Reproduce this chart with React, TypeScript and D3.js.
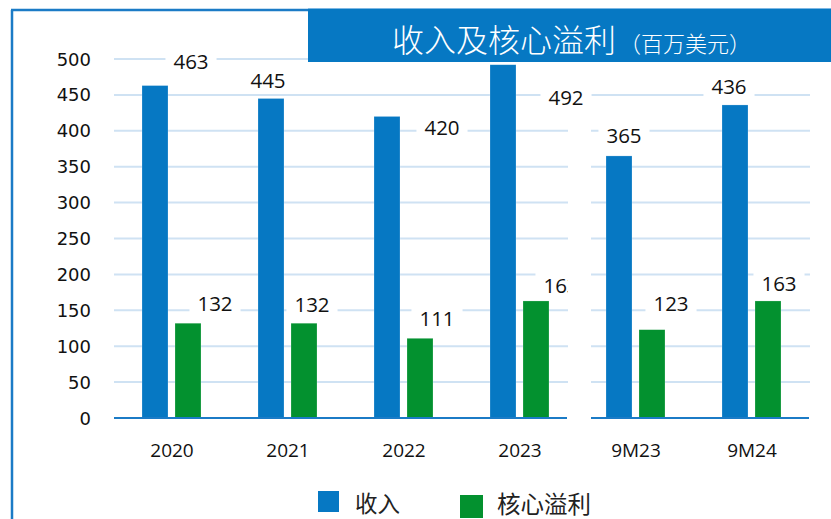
import React from "react";
import * as d3 from "d3";

const categories = ["2020", "2021", "2022", "2023", "9M23", "9M24"];
const revenue = [463, 445, 420, 492, 365, 436];
const coreProfit = [132, 132, 111, 163, 123, 163];
const yTicks = [0, 50, 100, 150, 200, 250, 300, 350, 400, 450, 500];
const seriesNames = ["收入", "核心溢利"];
const titleMain = "收入及核心溢利";
const titleUnit = "（百万美元）";

// label nudges (layout only): [dx, dy] from bar centre / bar top
const revNudge: [number, number][] = [[36, -25], [-3, -18], [55, 11], [63, 32], [5, -21], [-6, -19]];
const profNudge: [number, number][] = [[27, -20], [8, -19], [17, -20], [25, -16], [19, -27], [11, -18]];

const W = 831;
const H = 519;
const BLUE = "#0678C3";
const GREEN = "#03912F";
const GRID = "#CFE2F3";
const AXIS = "#1B7BC6";

export default function App() {
  const x = d3.scaleBand<string>().domain(categories).range([114, 810]).paddingInner(0).paddingOuter(0);
  const sub = d3.scaleBand<string>().domain(seriesNames).range([-30, 29]).paddingInner(7 / 33);
  const y = d3.scaleLinear().domain([0, 500]).range([418, 59]);

  const segs: [number, number][] = [[114, 568], [591, 810]];
  const labelFont = "'Open Sans', Arial, sans-serif";

  const labelBox = (cx: number, cy: number, txt: string, key: string, clip?: string) => {
    const w = txt.length * 11.7;
    return (
      <g key={key} clipPath={clip}>
        <rect x={cx - w / 2 - 8} y={cy - 12} width={w + 16} height={24} fill="#fff" />
        <text x={cx} y={cy} textAnchor="middle" dominantBaseline="central" fontSize={20.5} fontFamily={labelFont} fill="#111">
          {txt}
        </text>
      </g>
    );
  };

  const series = [
    { name: seriesNames[0], values: revenue, color: BLUE, nudge: revNudge },
    { name: seriesNames[1], values: coreProfit, color: GREEN, nudge: profNudge },
  ];

  return (
    <svg width={W} height={H} style={{ position: "absolute", left: 0, top: 0, background: "#fff" }}>
      <defs>
        <clipPath id="leftClip">
          <rect x={0} y={0} width={568} height={H} />
        </clipPath>
      </defs>
      <rect x={0} y={0} width={W} height={H} fill="#fff" />
      {/* frame */}
      <line x1={12} y1={10} x2={12} y2={H} stroke={AXIS} strokeWidth={2.5} />
      <line x1={11} y1={10} x2={308} y2={10} stroke={AXIS} strokeWidth={2.5} />

      {/* gridlines */}
      {yTicks.filter((t) => t > 0).map((t) =>
        segs.map((s, i) => (
          <line key={`g${t}-${i}`} x1={s[0]} x2={s[1]} y1={y(t)} y2={y(t)} stroke={GRID} strokeWidth={2} />
        ))
      )}

      {/* y tick labels */}
      {yTicks.map((t) => (
        <text key={`yt${t}`} x={91} y={y(t)} textAnchor="end" dominantBaseline="central" fontSize={18} fontFamily="'DejaVu Sans', sans-serif" fill="#111">
          {t}
        </text>
      ))}

      {/* labels (boxes) drawn beneath bars */}
      {series.map((s) =>
        s.values.map((v, i) => {
          const cx = (x(categories[i]) as number) + x.bandwidth() / 2 + (sub(s.name) as number) + sub.bandwidth() / 2;
          const lx = cx + s.nudge[i][0];
          const ly = y(v) + s.nudge[i][1];
          const clip = categories[i] === "2023" && s.name === seriesNames[1] ? "url(#leftClip)" : undefined;
          return labelBox(lx, ly, String(v), `lb-${s.name}-${i}`, clip);
        })
      )}

      {/* bars */}
      {series.map((s) =>
        s.values.map((v, i) => {
          const bx = (x(categories[i]) as number) + x.bandwidth() / 2 + (sub(s.name) as number);
          return (
            <rect key={`b-${s.name}-${i}`} x={bx} y={y(v)} width={sub.bandwidth()} height={y(0) - y(v)} fill={s.color} stroke="#ffffff" strokeOpacity={0.35} strokeWidth={0.6} />
          );
        })
      )}

      {/* x axis */}
      {segs.map((s, i) => (
        <line key={`ax${i}`} x1={s[0]} x2={s[1] - 1} y1={y(0)} y2={y(0)} stroke={AXIS} strokeWidth={2} />
      ))}
      {categories.map((c) => (
        <text key={`xt${c}`} x={(x(c) as number) + x.bandwidth() / 2} y={450} textAnchor="middle" dominantBaseline="central" fontSize={19} fontFamily={labelFont} fill="#111">
          {c}
        </text>
      ))}

      {/* title */}
      <rect x={308} y={8} width={W - 308} height={54} fill={BLUE} />
      <line x1={308} x2={W} y1={8.5} y2={8.5} stroke="#7DB7E3" strokeWidth={1} />
      <text x={392} y={38} dominantBaseline="central" fontSize={32} fontWeight={300} fontFamily="'Noto Sans CJK SC', sans-serif" fill="#fff">
        {titleMain}
      </text>
      <text x={619} y={42} dominantBaseline="central" fontSize={22} fontWeight={300} fontFamily="'Noto Sans CJK SC', sans-serif" fill="#fff">
        {titleUnit}
      </text>

      {/* legend */}
      <rect x={318} y={491} width={21} height={21} fill={BLUE} />
      <text x={355} y={502} dominantBaseline="central" fontSize={22.5} fontFamily="'Noto Sans CJK SC', sans-serif" fill="#222">
        {seriesNames[0]}
      </text>
      <rect x={460} y={495} width={23} height={23} fill={GREEN} />
      <text x={497} y={503} dominantBaseline="central" fontSize={23.5} fontFamily="'Noto Sans CJK SC', sans-serif" fill="#222">
        {seriesNames[1]}
      </text>
    </svg>
  );
}
